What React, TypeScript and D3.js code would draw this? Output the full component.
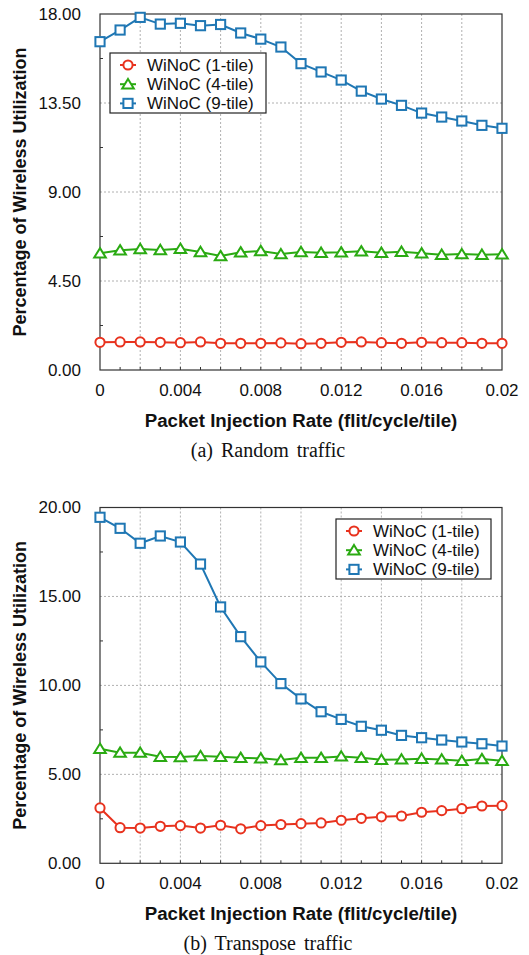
import React from "react";
import * as d3 from "d3";

const rates = d3.range(21).map((i) => i * 0.001);

const randomOne = [1.40, 1.42, 1.42, 1.40, 1.38, 1.42, 1.35, 1.35, 1.35, 1.37, 1.33, 1.35, 1.40, 1.42, 1.38, 1.35, 1.40, 1.38, 1.38, 1.35, 1.35];
const randomFour = [5.90, 6.05, 6.12, 6.07, 6.13, 5.97, 5.76, 5.95, 6.02, 5.86, 5.97, 5.93, 5.95, 6.00, 5.93, 5.98, 5.90, 5.83, 5.86, 5.83, 5.85];
const randomNine = [16.60, 17.19, 17.83, 17.49, 17.53, 17.41, 17.47, 17.04, 16.73, 16.33, 15.49, 15.07, 14.66, 14.10, 13.70, 13.38, 12.99, 12.79, 12.59, 12.37, 12.22];

const transOne = [3.11, 2.00, 1.98, 2.08, 2.12, 1.98, 2.14, 1.94, 2.12, 2.18, 2.23, 2.27, 2.42, 2.53, 2.61, 2.66, 2.87, 2.96, 3.07, 3.22, 3.24];
const transFour = [6.44, 6.22, 6.22, 5.99, 5.97, 6.03, 5.99, 5.93, 5.90, 5.80, 5.93, 5.93, 6.01, 5.93, 5.82, 5.84, 5.88, 5.84, 5.76, 5.86, 5.76];
const transNine = [19.45, 18.83, 17.99, 18.40, 18.06, 16.82, 14.41, 12.74, 11.32, 10.10, 9.24, 8.52, 8.09, 7.70, 7.48, 7.19, 7.06, 6.93, 6.82, 6.72, 6.59];

const seriesNames = ["WiNoC (1-tile)", "WiNoC (4-tile)", "WiNoC (9-tile)"];
const colors = ["#e8321e", "#2aaa12", "#1f77b4"];
const shapes = ["circle", "triangle", "square"];

const xTickLabels = [0, 0.004, 0.008, 0.012, 0.016, 0.02];
const topYTicks = [0, 4.5, 9, 13.5, 18];
const bottomYTicks = [0, 5, 10, 15, 20];

const sans = "'Liberation Sans', Arial, Helvetica, sans-serif";
const serif = "'Liberation Serif', 'Times New Roman', serif";

function Marker({ shape, x, y, color }) {
	if (shape === "circle")
		return <circle cx={x} cy={y} r={4.6} fill="white" stroke={color} strokeWidth={2} />;
	if (shape === "triangle") {
		const p = d3.path();
		p.moveTo(x, y - 5.2);
		p.lineTo(x + 5.8, y + 4.2);
		p.lineTo(x - 5.8, y + 4.2);
		p.closePath();
		return <path d={p.toString()} fill="white" stroke={color} strokeWidth={2} />;
	}
	return <rect x={x - 4.6} y={y - 4.6} width={9.2} height={9.2} fill="white" stroke={color} strokeWidth={2} />;
}

function Panel({ top, bottom, yMax, yTicks, series, legend, caption }) {
	const left = 100;
	const right = 502;
	const x = d3.scaleLinear().domain([0, 0.02]).range([left, right]);
	const y = d3.scaleLinear().domain([0, yMax]).range([bottom, top]);
	const line = d3
		.line<number>()
		.x((_, i) => x(rates[i]))
		.y((d) => y(d));
	const gridX = d3.range(1, 10).map((i) => i * 0.002);
	const minorX = d3.range(1, 20).map((i) => i * 0.001);
	const minorY = yTicks.slice(0, -1).map((t, i) => (t + yTicks[i + 1]) / 2);
	const fmtX = (v) => (v === 0 ? "0" : v === 0.02 ? "0.02" : d3.format(".3f")(v));
	const midY = (top + bottom) / 2;
	return (
		<g>
			{gridX.map((v) => (
				<line key={"gx" + v} x1={x(v)} x2={x(v)} y1={top} y2={bottom} stroke="#b0b0b0" strokeDasharray="2,2" />
			))}
			{yTicks.slice(1, -1).map((v) => (
				<line key={"gy" + v} x1={left} x2={right} y1={y(v)} y2={y(v)} stroke="#b0b0b0" strokeDasharray="2,2" />
			))}
			{minorX.map((v) => (
				<line key={"mx" + v} x1={x(v)} x2={x(v)} y1={bottom} y2={bottom - 3} stroke="#333" />
			))}
			{minorY.map((v) => (
				<line key={"my" + v} x1={left} x2={left + 3} y1={y(v)} y2={y(v)} stroke="#333" />
			))}
			<rect x={left} y={top} width={right - left} height={bottom - top} fill="none" stroke="#333" strokeWidth={1.2} />
			{yTicks.map((v) => (
				<text key={"ty" + v} x={left - 19} y={y(v)} dy="0.35em" textAnchor="end" fontFamily={sans} fontSize={17} fill="#111">
					{v.toFixed(2)}
				</text>
			))}
			{xTickLabels.map((v) => (
				<text key={"tx" + v} x={x(v)} y={bottom + 20} dy="0.35em" textAnchor="middle" fontFamily={sans} fontSize={17} fill="#111">
					{fmtX(v)}
				</text>
			))}
			<text x={(left + right) / 2} y={bottom + 50} dy="0.35em" textAnchor="middle" fontFamily={sans} fontSize={18.7} fontWeight="bold" fill="#111">
				Packet Injection Rate (flit/cycle/tile)
			</text>
			<text
				transform={`translate(20,${midY}) rotate(-90)`}
				dy="0.35em"
				textAnchor="middle"
				fontFamily={sans}
				fontSize={18}
				fontWeight="bold"
				fill="#111">
				Percentage of Wireless Utilization
			</text>
			<text x={268} y={bottom + 80} dy="0.35em" textAnchor="middle" fontFamily={serif} fontSize={20} fill="#111" wordSpacing={3}>
				{caption}
			</text>
			{series.map((vals, s) => (
				<g key={"s" + s}>
					<path d={line(vals)} fill="none" stroke={colors[s]} strokeWidth={2} />
					{vals.map((v, i) => (
						<Marker key={i} shape={shapes[s]} x={x(rates[i])} y={y(v)} color={colors[s]} />
					))}
				</g>
			))}
			<rect x={legend.x} y={legend.y} width={legend.w} height={legend.h} fill="white" stroke="#222" strokeWidth={1.2} />
			{seriesNames.map((name, s) => {
				const ly = legend.y + 12 + s * 19.2;
				const mx = legend.x + 18;
				return (
					<g key={"l" + s}>
						<line x1={mx - 8} x2={mx + 8} y1={ly} y2={ly} stroke={colors[s]} strokeWidth={2} />
						<Marker shape={shapes[s]} x={mx} y={ly} color={colors[s]} />
						<text x={legend.x + 37} y={ly} dy="0.35em" fontFamily={sans} fontSize={17} fill="#111">
							{name}
						</text>
					</g>
				);
			})}
		</g>
	);
}

export default function App() {
	return (
		<svg width={529} height={955} style={{ position: "absolute", left: 0, top: 0, background: "white" }}>
			<Panel
				top={14}
				bottom={370}
				yMax={18}
				yTicks={topYTicks}
				series={[randomOne, randomFour, randomNine]}
				legend={{ x: 110, y: 53, w: 156, h: 60 }}
				caption="(a) Random traffic"
			/>
			<Panel
				top={507.5}
				bottom={863.3}
				yMax={20}
				yTicks={bottomYTicks}
				series={[transOne, transFour, transNine]}
				legend={{ x: 336, y: 519, w: 155, h: 60 }}
				caption="(b) Transpose traffic"
			/>
		</svg>
	);
}
